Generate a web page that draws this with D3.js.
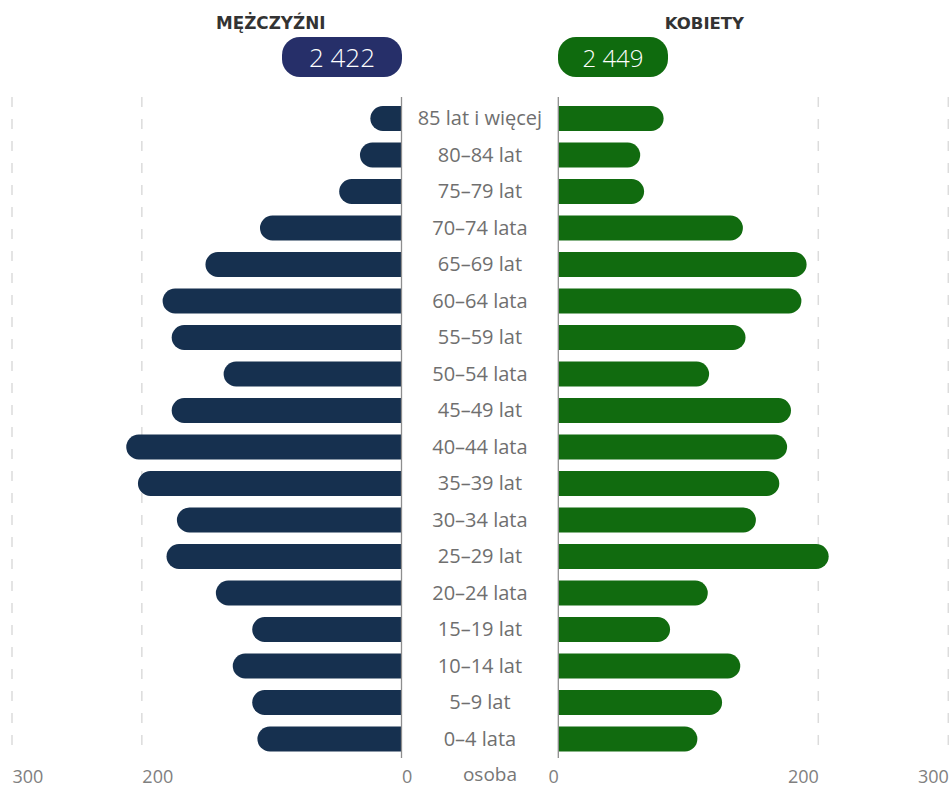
<!DOCTYPE html>
<html>
<head>
<meta charset="utf-8">
<script src="https://cdn.jsdelivr.net/npm/d3@7/dist/d3.min.js"></script>
<style>
  html, body { margin: 0; padding: 0; background: #fff; }
  svg { display: block; }
</style>
</head>
<body>
<svg id="chart" width="949" height="787"></svg>
<script>
const categories = ["85 lat i więcej","80–84 lat","75–79 lat","70–74 lata","65–69 lat","60–64 lata","55–59 lat","50–54 lata","45–49 lat","40–44 lata","35–39 lat","30–34 lata","25–29 lat","20–24 lata","15–19 lat","10–14 lat","5–9 lat","0–4 lata"];
const men   = [24,32,48,109,151,184,177,137,177,212,203,173,181,143,115,130,115,111];
const women = [81,63,66,142,191,187,144,116,179,176,170,152,208,115,86,140,126,107];
const tickValues = [0,200,300];
const seriesNames = ["MĘŻCZYŹNI","KOBIETY"];
const unitLabel = "osoba";

const svg = d3.select("#chart");
const fmt = d3.formatLocale({decimal: ",", thousands: "\u2009", grouping: [3], currency: ["", ""]}).format(",d");
const fmtSp = v => fmt(v).replace(/\u2009/g, " ");

const menColor = "#16304f", womenColor = "#116b0f";
const menPill = "#262f69", womenPill = "#0f6b0e";

const xL = d3.scaleLinear().domain([0,300]).range([401.5, 12]);
const xR = d3.scaleLinear().domain([0,300]).range([558.3, 948.3]);
const y = d3.scaleBand().domain(categories).range([100.25, 757.25]).paddingInner(0.315).paddingOuter(0.1575);
const h = y.bandwidth();

// grid lines
const grid = svg.append("g");
[[xL, tickValues.filter(v => v > 0)], [xR, tickValues.filter(v => v > 0)]].forEach(([sc, vals]) => {
  grid.selectAll(null).data(vals).enter().append("line")
    .attr("x1", d => sc(d)).attr("x2", d => sc(d))
    .attr("y1", 97).attr("y2", 752)
    .attr("stroke", "#dcdcdc").attr("stroke-width", 1.5)
    .attr("stroke-dasharray", "10,12");
});

function barPath(x0, x1, yy, hh) {
  const r = hh / 2;
  const dir = x1 > x0 ? 1 : -1;
  const xe = x1 - dir * r;
  return `M${x0},${yy}H${xe}A${r},${r} 0 0 ${dir > 0 ? 1 : 0} ${xe},${yy + hh}H${x0}Z`;
}

svg.append("g").selectAll("path").data(categories).enter().append("path")
  .attr("d", (c, i) => barPath(xL(0), xL(men[i]), y(c), h))
  .attr("fill", menColor);
svg.append("g").selectAll("path").data(categories).enter().append("path")
  .attr("d", (c, i) => barPath(xR(0), xR(women[i]), y(c), h))
  .attr("fill", womenColor);

// axis lines
[xL(0), xR(0)].forEach(x => {
  svg.append("line").attr("x1", x).attr("x2", x).attr("y1", 97).attr("y2", 758)
    .attr("stroke", "#8e8e8e").attr("stroke-width", 1.3);
});

// category labels
svg.append("g").selectAll("text").data(categories).enter().append("text")
  .attr("x", (xL(0) + xR(0)) / 2)
  .attr("y", c => y(c) + h / 2 + 6.5)
  .attr("text-anchor", "middle")
  .attr("font-family", "'Open Sans', sans-serif")
  .attr("font-size", 20)
  .attr("fill", "#6f6f6f")
  .text(c => c);

// bottom axes
const axL = d3.axisBottom(xL).tickValues(tickValues).tickSize(0).tickPadding(0).tickFormat(d3.format("d"));
const axR = d3.axisBottom(xR).tickValues(tickValues).tickSize(0).tickPadding(0).tickFormat(d3.format("d"));
const gL = svg.append("g").attr("transform", "translate(0,770)").call(axL);
const gR = svg.append("g").attr("transform", "translate(0,770)").call(axR);
[gL, gR].forEach((g, k) => {
  g.select(".domain").remove();
  g.selectAll("text")
    .attr("font-family", "'Open Sans', sans-serif")
    .attr("font-size", 18)
    .attr("fill", "#808080")
    .attr("dy", "0.72em")
    .attr("text-anchor", k === 0 ? "start" : "end");
});
svg.append("text")
  .attr("x", 490).attr("y", 781)
  .attr("text-anchor", "middle")
  .attr("font-family", "'Open Sans', sans-serif")
  .attr("font-size", 19)
  .attr("fill", "#777")
  .text(unitLabel);

// headings
svg.append("text").attr("x", 216).attr("y", 29)
  .attr("font-family", "'DejaVu Sans', sans-serif").attr("font-weight", "bold")
  .attr("font-size", 16.8).attr("fill", "#333").text(seriesNames[0]);
svg.append("text").attr("x", 744).attr("y", 29).attr("text-anchor", "end")
  .attr("font-family", "'DejaVu Sans', sans-serif").attr("font-weight", "bold")
  .attr("font-size", 16.5).attr("fill", "#333").text(seriesNames[1]);

// pills with totals
const totalMen = d3.sum(men), totalWomen = d3.sum(women);
svg.append("rect").attr("x", 282).attr("y", 37).attr("width", 120).attr("height", 40)
  .attr("rx", 18).attr("fill", menPill);
svg.append("text").attr("x", 342).attr("y", 66.5).attr("text-anchor", "middle")
  .attr("font-family", "'Open Sans', sans-serif").attr("font-weight", 300)
  .attr("font-size", 26).attr("fill", "#fff").text(fmtSp(totalMen));
svg.append("rect").attr("x", 558).attr("y", 37).attr("width", 110).attr("height", 40)
  .attr("rx", 18).attr("fill", womenPill);
svg.append("text").attr("x", 613).attr("y", 66.5).attr("text-anchor", "middle")
  .attr("font-family", "'Open Sans', sans-serif").attr("font-weight", 300)
  .attr("font-size", 24).attr("fill", "#fff").text(fmtSp(totalWomen));
</script>
</body>
</html>
